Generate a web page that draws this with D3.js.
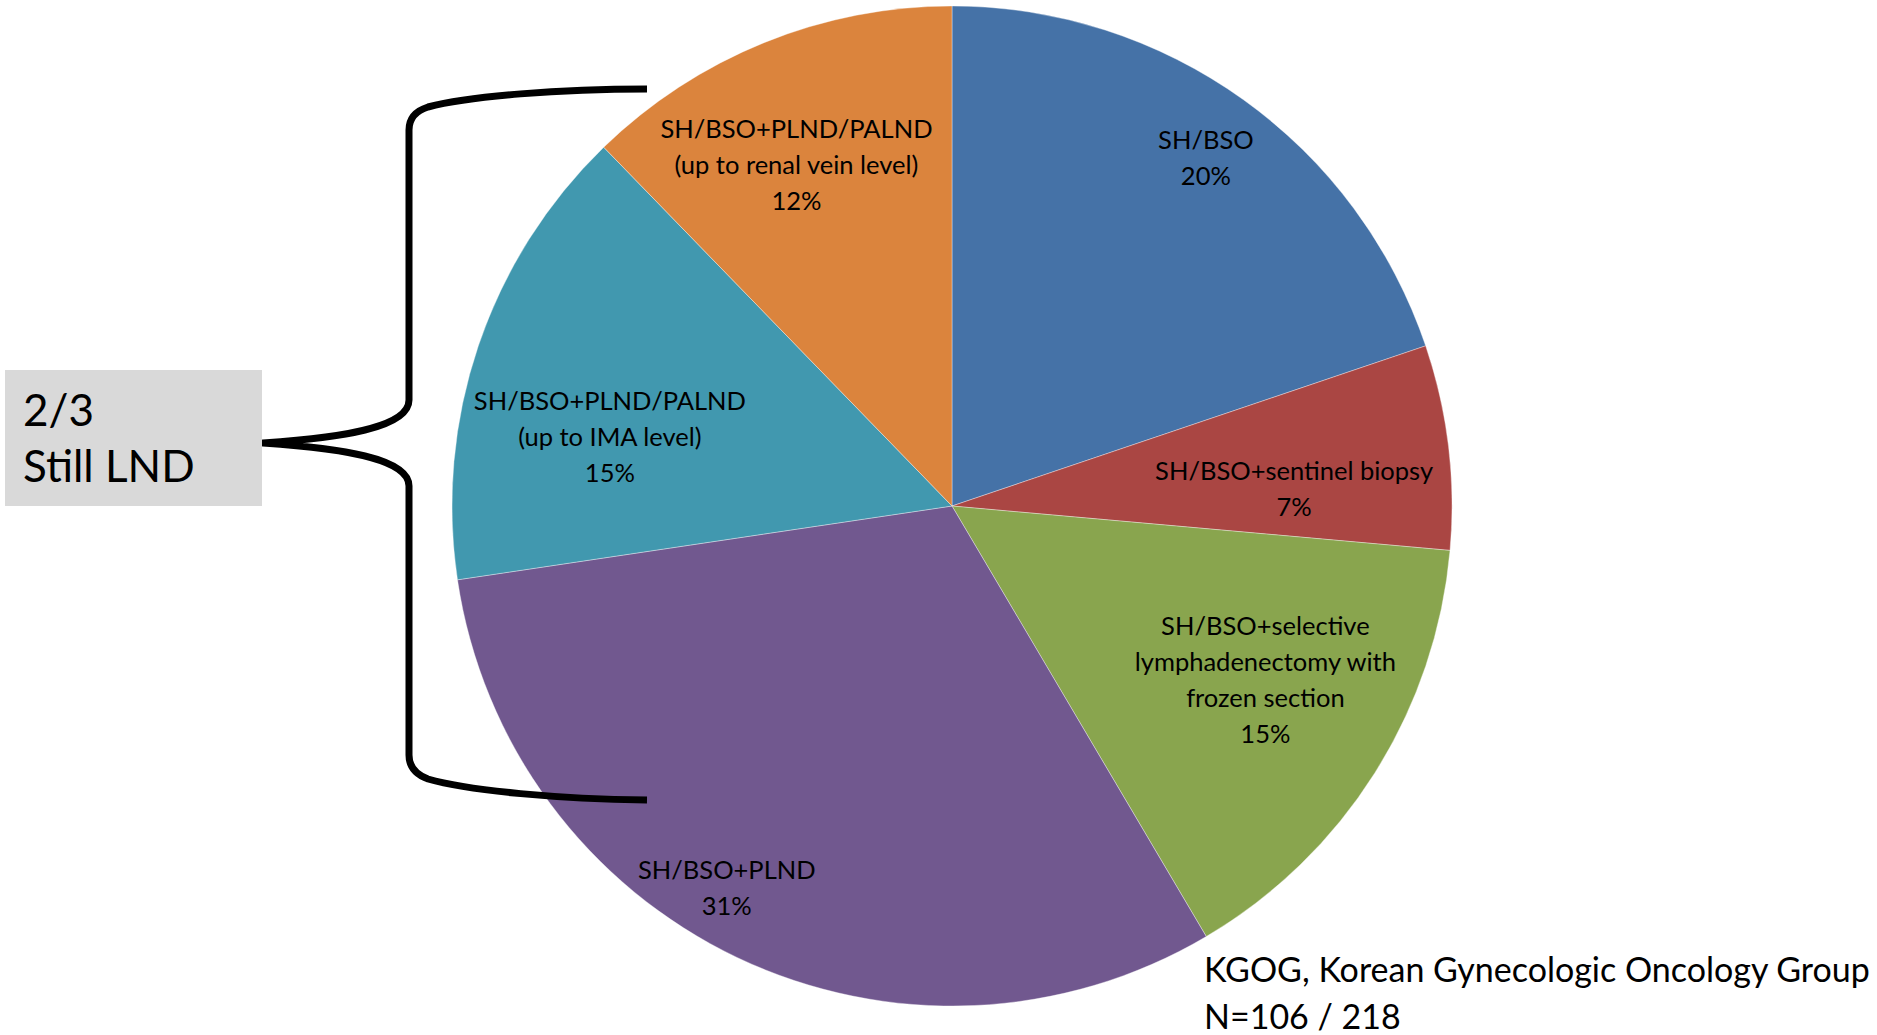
<!DOCTYPE html>
<html>
<head>
<meta charset="utf-8">
<script src="https://cdn.jsdelivr.net/npm/d3@7"></script>
<style>
  html, body { margin: 0; padding: 0; background: #ffffff; }
  svg { display: block; }
  text { font-family: Lato, "Open Sans", sans-serif; fill: #000; }
</style>
</head>
<body>
<svg id="chart" width="1877" height="1035"></svg>
<script>
// Surgical approach in KGOG survey (patients per category, N = 106)
const categories = [
  ["SH/BSO"],
  ["SH/BSO+sentinel biopsy"],
  ["SH/BSO+selective", "lymphadenectomy with", "frozen section"],
  ["SH/BSO+PLND"],
  ["SH/BSO+PLND/PALND", "(up to IMA level)"],
  ["SH/BSO+PLND/PALND", "(up to renal vein level)"]
];
const counts = [21, 7, 16, 33, 16, 13];
const colors = ["#4572A7", "#AA4643", "#89A54E", "#71588F", "#4198AF", "#DB843D"];

const bracketLines = ["2/3", "Still LND"];
const footerLines = ["KGOG, Korean Gynecologic Oncology Group", "N=106 / 218"];

// label placement inside each slice: fraction along the slice's sweep, fraction of radius
const labelPlacement = [
  { t: 0.506, rf: 0.862 },
  { t: 0.670, rf: 0.685 },
  { t: 0.441, rf: 0.717 },
  { t: 0.545, rf: 0.887 },
  { t: 0.366, rf: 0.698 },
  { t: 0.445, rf: 0.750 }
];

const svg = d3.select("#chart");
const cx = 952, cy = 506, R = 500;
const total = d3.sum(counts);

const pie = d3.pie().sort(null).value(d => d)(counts);
const arc = d3.arc().innerRadius(0).outerRadius(R);

const g = svg.append("g").attr("transform", `translate(${cx},${cy})`);

g.selectAll("path.slice")
  .data(pie)
  .join("path")
  .attr("class", "slice")
  .attr("d", arc)
  .attr("fill", (d, i) => colors[i])
  .attr("stroke", "#ffffff")
  .attr("stroke-opacity", 0.45)
  .attr("stroke-width", 0.8);

const lineH = 36;
const labels = g.selectAll("text.lbl")
  .data(pie)
  .join("text")
  .attr("class", "lbl")
  .attr("text-anchor", "middle")
  .style("font-size", "25.5px")
  .attr("transform", (d, i) => {
    const p = labelPlacement[i];
    const a = d.startAngle + p.t * (d.endAngle - d.startAngle);
    const r = p.rf * R;
    return `translate(${r * Math.sin(a)},${-r * Math.cos(a)})`;
  });

labels.each(function (d, i) {
  const lines = categories[i].concat([Math.round(d.value / total * 100) + "%"]);
  const off = -(lines.length - 1) / 2 * lineH;
  d3.select(this).selectAll("tspan")
    .data(lines)
    .join("tspan")
    .attr("x", 0)
    .attr("y", (s, k) => off + k * lineH)
    .attr("dy", "0.35em")
    .text(s => s);
});

// brace grouping the lymph-node dissection slices
const brace = "M647,89 C560,89 470,96 428,107 Q409,113 409,130 L409,400 " +
  "C409,428 340,438 263,443 C340,448 409,458 409,486 L409,755 " +
  "Q409,772 428,779 C470,791 560,799 647,800";
svg.append("path")
  .attr("d", brace)
  .attr("fill", "none")
  .attr("stroke", "#000")
  .attr("stroke-width", 7)
  .attr("stroke-linejoin", "round");

// grey call-out box
svg.append("rect")
  .attr("x", 5).attr("y", 370)
  .attr("width", 257).attr("height", 136)
  .attr("fill", "#D9D9D9");

svg.append("text")
  .style("font-size", "44px")
  .selectAll("tspan")
  .data(bracketLines)
  .join("tspan")
  .attr("x", 23)
  .attr("y", (s, k) => 426 + k * 56)
  .text(s => s);

svg.append("text")
  .style("font-size", "34px")
  .selectAll("tspan")
  .data(footerLines)
  .join("tspan")
  .attr("x", 1204)
  .attr("y", (s, k) => 982 + k * 47)
  .text(s => s);
</script>
</body>
</html>
